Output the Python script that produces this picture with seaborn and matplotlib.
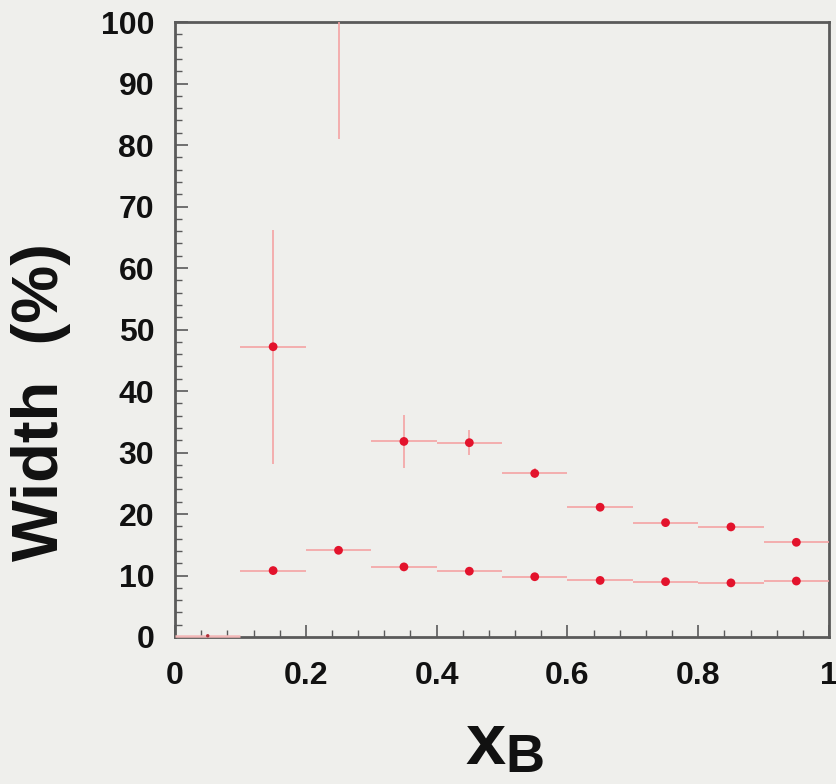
import matplotlib
matplotlib.use("Agg")
import matplotlib.pyplot as plt
from matplotlib.ticker import MultipleLocator
import seaborn as sns
import pandas as pd

# Data
xb_bins = [0.15, 0.25, 0.35, 0.45, 0.55, 0.65, 0.75, 0.85, 0.95]
bin_half_width = [0.05] * 9
width_upper = [47.2, 118.0, 31.8, 31.6, 26.6, 21.1, 18.6, 17.9, 15.4]
err_upper = [19.0, 37.0, 4.3, 2.0, 0.8, 0.6, 0.5, 0.5, 0.5]
width_lower = [10.8, 14.1, 11.4, 10.7, 9.8, 9.2, 9.0, 8.8, 9.1]
err_lower = [0.5, 0.5, 0.5, 0.4, 0.4, 0.4, 0.4, 0.4, 0.4]
# first bin (0 < xB < 0.1), sitting on the axis
xb_edge = [0.05]
width_edge = [0.2]

x_ticks = [0, 0.2, 0.4, 0.6, 0.8, 1]
x_ticklabels = ["0", "0.2", "0.4", "0.6", "0.8", "1"]
y_ticks = list(range(0, 101, 10))

sns.set_theme(style="ticks")
plt.rcParams["font.family"] = ["Liberation Sans", "DejaVu Sans"]

bg = "#efefec"
fig = plt.figure(figsize=(8.37, 7.84), dpi=100, facecolor=bg)
ax = fig.add_axes([0.2091, 0.1875, 0.7814, 0.7844])
ax.set_facecolor(bg)

df = pd.DataFrame({
    "xB": xb_bins * 2,
    "width": width_upper + width_lower,
    "err": err_upper + err_lower,
    "xerr": bin_half_width * 2,
    "series": ["upper"] * 9 + ["lower"] * 9,
})
df_edge = pd.DataFrame({"xB": xb_edge, "width": width_edge})

err_color = "#f5a3a3"
pt_color = "#e3132c"
for sp in ax.spines.values():
    sp.set_visible(True)
    sp.set_color("#5a5a5a")
    sp.set_linewidth(2)
    sp.set_zorder(1)

ax.errorbar(df["xB"], df["width"], yerr=df["err"], xerr=df["xerr"],
            fmt="none", ecolor=err_color, elinewidth=1.2, capsize=0, zorder=2)
ax.errorbar(df_edge["xB"], df_edge["width"], xerr=0.05, fmt="none",
            ecolor="#f2b8b8", elinewidth=1.8, capsize=0, zorder=4, clip_on=False)
sns.scatterplot(data=df, x="xB", y="width", ax=ax, color=pt_color, s=40,
                edgecolor="none", legend=False, zorder=3)
sns.scatterplot(data=df_edge, x="xB", y="width", ax=ax, color="#b0303a", s=6,
                edgecolor="none", legend=False, zorder=5, clip_on=False)

ax.set_xlim(0, 1)
ax.set_ylim(0, 100)
ax.set_xticks(x_ticks)
ax.set_xticklabels(x_ticklabels)
ax.set_yticks(y_ticks)
ax.xaxis.set_minor_locator(MultipleLocator(0.04))
ax.yaxis.set_minor_locator(MultipleLocator(2))
ax.tick_params(axis="both", which="major", direction="in", length=9, width=1.2,
               color="#5a5a5a", labelsize=23)
ax.tick_params(axis="both", which="minor", direction="in", length=5, width=1.0,
               color="#5a5a5a")
ax.tick_params(axis="y", which="major", pad=15)
ax.tick_params(axis="x", which="major", pad=17)
ax.tick_params(axis="x", which="both", top=False)
ax.tick_params(axis="y", which="both", right=False)
for lab in ax.get_xticklabels() + ax.get_yticklabels():
    lab.set_fontweight("bold")
    lab.set_color("#111111")

ax.set_xlabel("")
ax.set_ylabel("")
fig.text(41 / 837, 1 - 402 / 784, "Width  (%)", fontsize=47, fontweight="bold",
         rotation=90, ha="center", va="center", color="#111111")
fig.text(0.556, 0.026, "x", fontsize=52, fontweight="bold", ha="left",
         va="baseline", color="#111111")
fig.text(0.604, 0.001, "B", fontsize=39, fontweight="bold", ha="left",
         va="bottom", color="#111111")

fig.savefig("out.png", dpi=100, facecolor=bg)
